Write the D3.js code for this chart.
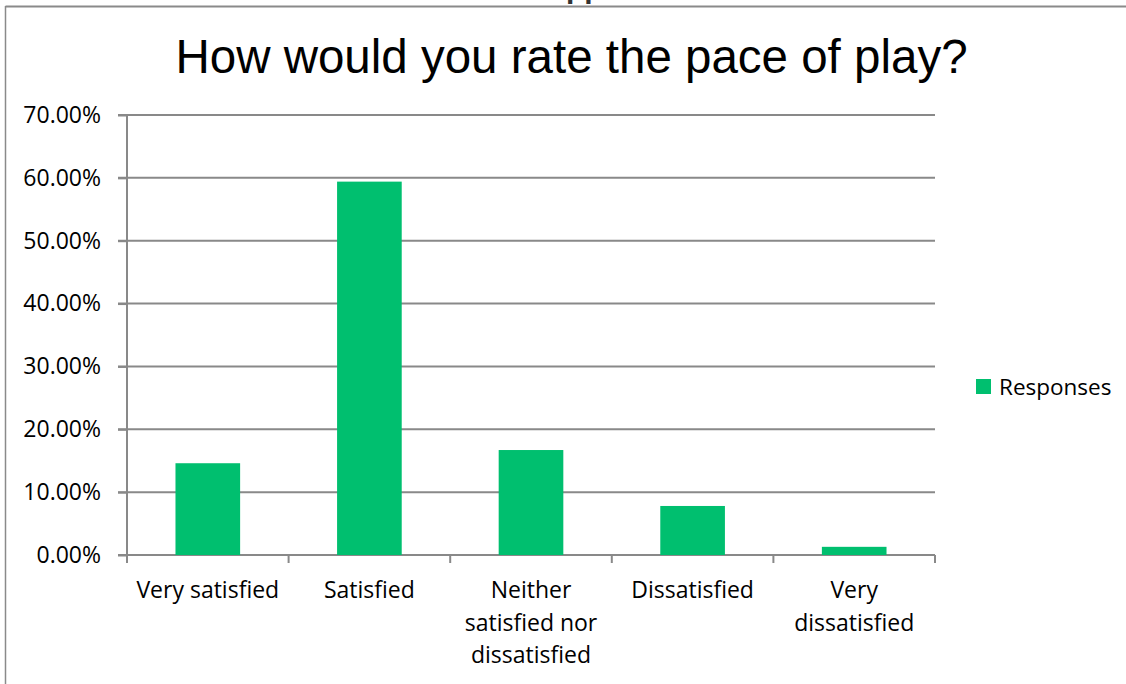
<!DOCTYPE html>
<html>
<head>
<meta charset="utf-8">
<script src="https://cdn.jsdelivr.net/npm/d3@7"></script>
<style>
  html, body { margin: 0; padding: 0; background: #ffffff; }
  svg { display: block; }
  text { font-family: "Open Sans", "Noto Sans", sans-serif; }
</style>
</head>
<body>
<svg id="chart" width="1126" height="684"></svg>
<script>
// ---- data ----
const titleText = "How would you rate the pace of play?";
const categories = ["Very satisfied", "Satisfied", "Neither satisfied nor dissatisfied", "Dissatisfied", "Very dissatisfied"];
const responses = [0.146, 0.594, 0.167, 0.078, 0.013];
const seriesName = "Responses";
const yTicks = [0, 0.1, 0.2, 0.3, 0.4, 0.5, 0.6, 0.7];

// ---- layout ----
const svg = d3.select("#chart");
const plot = { left: 127, right: 935, top: 115, bottom: 555 };
const barColor = "#00bf6f";
const gridColor = "#898989";

// frame (partial, clipped by the window)
svg.append("line").attr("x1", 5.5).attr("x2", 1126).attr("y1", 6.5).attr("y2", 6.5)
  .attr("stroke", "#8a8a8a").attr("stroke-width", 2);
svg.append("line").attr("x1", 5.5).attr("x2", 5.5).attr("y1", 6).attr("y2", 684)
  .attr("stroke", "#8a8a8a").attr("stroke-width", 1.5);

// cut-off heading above the frame (only its descenders are visible in the reference)
svg.append("text").attr("x", 566).attr("y", -2)
  .style("font-family", "'Liberation Sans', Arial, sans-serif")
  .style("font-weight", "bold").style("font-size", "30px").attr("fill", "#333")
  .text("pp");

// title
svg.append("text").attr("x", 571.5).attr("y", 72.5).attr("text-anchor", "middle")
  .style("font-family", "'Liberation Sans', Arial, sans-serif")
  .style("font-size", "47.5px").attr("fill", "#000")
  .text(titleText);

const x = d3.scaleBand().domain(categories).range([plot.left, plot.right]).paddingInner(0.6).paddingOuter(0.3);
const xCat = d3.scaleBand().domain(categories).range([plot.left, plot.right]).padding(0);
const y = d3.scaleLinear().domain([0, 0.7]).range([plot.bottom, plot.top]);

// gridlines
svg.append("g").selectAll("line").data(yTicks).join("line")
  .attr("x1", plot.left - 9).attr("x2", plot.right)
  .attr("y1", d => y(d)).attr("y2", d => y(d))
  .attr("stroke", gridColor).attr("stroke-width", 2);

// bars
svg.append("g").selectAll("rect").data(responses).join("rect")
  .attr("x", (d, i) => x(categories[i]))
  .attr("width", x.bandwidth())
  .attr("y", d => y(d))
  .attr("height", d => y(0) - y(d))
  .attr("fill", barColor);

// y axis
const yAxis = d3.axisLeft(y).tickValues(yTicks).tickSize(9).tickPadding(17)
  .tickFormat(d => (d * 100).toFixed(2) + "%");
const gy = svg.append("g").attr("transform", `translate(${plot.left},0)`).call(yAxis);
gy.select(".domain").remove();
gy.selectAll(".tick line").attr("stroke", gridColor).attr("stroke-width", 2);
gy.selectAll(".tick text").style("font-family", "'Open Sans', sans-serif").style("font-size", "23px").attr("fill", "#000");
svg.append("line").attr("x1", plot.left).attr("x2", plot.left)
  .attr("y1", plot.top).attr("y2", plot.bottom + 8)
  .attr("stroke", gridColor).attr("stroke-width", 2);

// x axis ticks (category boundaries)
const bounds = categories.map(c => xCat(c)).concat([plot.right]);
svg.append("g").selectAll("line").data(bounds).join("line")
  .attr("x1", d => d).attr("x2", d => d)
  .attr("y1", plot.bottom).attr("y2", plot.bottom + 8)
  .attr("stroke", gridColor).attr("stroke-width", 2);

// x labels with wrapping
const labelG = svg.append("g");
const measure = svg.append("text").style("font-size", "23px").attr("visibility", "hidden");
function wrap(str, maxW) {
  const words = str.split(" ");
  const lines = [];
  let cur = "";
  words.forEach(w => {
    const test = cur ? cur + " " + w : w;
    measure.text(test);
    if (measure.node().getComputedTextLength() > maxW && cur) {
      lines.push(cur); cur = w;
    } else cur = test;
  });
  if (cur) lines.push(cur);
  return lines;
}
categories.forEach(c => {
  const lines = wrap(c, 152);
  const t = labelG.append("text").attr("text-anchor", "middle")
    .style("font-size", "23px").attr("fill", "#000");
  lines.forEach((ln, i) => {
    t.append("tspan").attr("x", xCat(c) + xCat.bandwidth() / 2).attr("y", 598 + i * 32.5).text(ln);
  });
});
measure.remove();

// legend
svg.append("rect").attr("x", 976).attr("y", 379).attr("width", 15).attr("height", 15).attr("fill", barColor);
svg.append("text").attr("x", 999).attr("y", 395).style("font-size", "22.5px").attr("fill", "#000").text(seriesName);
</script>
</body>
</html>
